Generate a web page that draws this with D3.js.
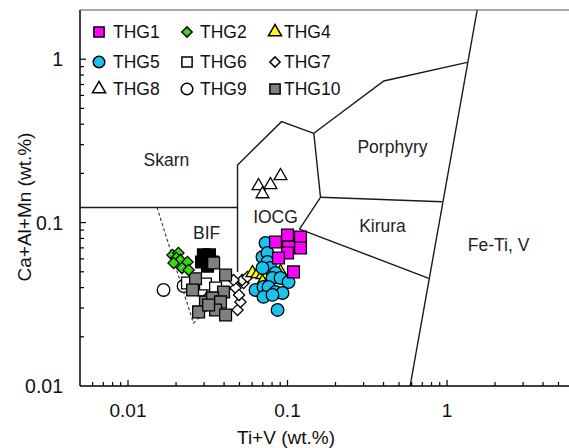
<!DOCTYPE html>
<html>
<head>
<meta charset="utf-8">
<script src="https://cdn.jsdelivr.net/npm/d3@7"></script>
<style>
  html, body { margin: 0; padding: 0; background: #fff; }
  svg { display: block; font-family: "Liberation Sans", Arial, Helvetica, sans-serif; }
</style>
</head>
<body>
<svg id="chart" width="569" height="448"></svg>
<script>
// ---- data (Ti+V, Ca+Al+Mn in wt.%) ----
const seriesNames = ["THG1", "THG2", "THG4", "THG5", "THG6", "THG7", "THG8", "THG9", "THG10"];

const thg1 = [[0.0841,0.0761],[0.100,0.0840],[0.1206,0.0816],[0.1206,0.0699],[0.1015,0.0709],
              [0.100,0.0652],[0.0878,0.0607],[0.109,0.0499]];
const thg2 = [[0.0190,0.0634],[0.0207,0.0652],[0.0201,0.0607],[0.0213,0.0590],[0.0236,0.0574],
              [0.0193,0.0566],[0.0218,0.0528],[0.0240,0.0513]];
// black squares (not listed in the legend)
const thg3 = [[0.0297,0.0634],[0.0324,0.0634],[0.0311,0.0590],[0.0339,0.0574],[0.0289,0.0574],
              [0.0315,0.0542]];
const thg4 = [[0.0603,0.0492],[0.0649,0.0485],[0.0697,0.0478],[0.0738,0.0513],[0.0904,0.0499],
              [0.0697,0.0433]];
const thg5 = [[0.0728,0.0750],[0.0697,0.0616],[0.0749,0.0652],[0.0749,0.0574],[0.0782,0.0528],
              [0.0841,0.0492],[0.0805,0.0458],[0.0904,0.0458],[0.1015,0.0433],[0.0630,0.0387],
              [0.0707,0.0404],[0.0760,0.0404],[0.0841,0.0376],[0.0930,0.0371],[0.0707,0.0351],
              [0.0805,0.0361],[0.0866,0.0292],[0.0697,0.0528]];
const thg6 = [[0.0236,0.0427],[0.0306,0.0421],[0.0354,0.0398]];
const thg7 = [[0.0486,0.0292],[0.0507,0.0327],[0.0472,0.0398],[0.0530,0.0427],[0.0520,0.0445],
              [0.0459,0.0445],[0.0561,0.0465],[0.0497,0.0361]];
const thg8 = [[0.0658,0.1675],[0.0782,0.1699],[0.0697,0.1496],[0.0904,0.1929]];
const thg9 = [[0.0167,0.0387],[0.0223,0.0409],[0.0285,0.0387]];
const thg10 = [[0.0265,0.0453],[0.0344,0.0566],[0.0409,0.0478],[0.0254,0.0387],[0.0306,0.0327],
               [0.0397,0.0376],[0.0339,0.0346],[0.0380,0.0327],[0.0277,0.0284],[0.0354,0.0292],
               [0.0409,0.0272],[0.0320,0.0313]];

// field boundaries (polylines in data units)
const skarnBase   = [[0.005,0.1238],[0.0486,0.1238]];
const iocgWest    = [[0.0486,0.0498],[0.0486,0.2252],[0.0917,0.4146],[0.1462,0.352]];
const porphyryTop = [[0.1462,0.352],[0.4016,0.7356],[1.339,0.957]];
const feTiVLine   = [[1.546,2.0],[0.587,0.01]];
const iocgEast    = [[0.1462,0.352],[0.161,0.1428],[0.1189,0.0913]];
const kirunaTop   = [[0.161,0.1428],[0.933,0.1342]];
const kirunaBase  = [[0.1189,0.0913],[0.769,0.0456]];
const bifDashed   = [[0.0152,0.1238],[0.0257,0.0243],[0.0472,0.0415]];

const fieldLabels = [
  {text: "Skarn",    x: 0.0174, y: 0.242},
  {text: "BIF",      x: 0.0311, y: 0.0864},
  {text: "IOCG",     x: 0.0841, y: 0.1082},
  {text: "Porphyry", x: 0.455,  y: 0.290},
  {text: "Kirura",   x: 0.394,  y: 0.0953},
  {text: "Fe-Ti, V", x: 2.104,  y: 0.0729}
];

const xTickLabels = [0.01, 0.1, 1];
const yTickLabels = [0.01, 0.1, 1];

// ---- layout ----
const svg = d3.select("#chart");
const plotLeft = 80, plotTop = 10, plotBottom = 386;
const x = d3.scaleLog().domain([0.005, 10]).range([plotLeft, plotLeft + 159.5 * Math.log10(2000)]);
const y = d3.scaleLog().domain([0.01, 2]).range([plotBottom, plotTop]);

svg.append("defs").append("clipPath").attr("id", "plot-clip")
  .append("rect").attr("x", plotLeft).attr("y", plotTop)
  .attr("width", 600).attr("height", plotBottom - plotTop);

const plot = svg.append("g").attr("clip-path", "url(#plot-clip)");

const line = d3.line().x(d => x(d[0])).y(d => y(d[1]));

[skarnBase, iocgWest, porphyryTop, feTiVLine, iocgEast, kirunaTop, kirunaBase].forEach(p => {
  plot.append("path").attr("d", line(p))
    .attr("fill", "none").attr("stroke", "#1a1a1a").attr("stroke-width", 1.4);
});
plot.append("path").attr("d", line(bifDashed))
  .attr("fill", "none").attr("stroke", "#333").attr("stroke-width", 1.1)
  .attr("stroke-dasharray", "3,2.5");

// field names
svg.append("g").selectAll("text").data(fieldLabels).join("text")
  .attr("x", d => x(d.x)).attr("y", d => y(d.y))
  .attr("text-anchor", "middle").attr("dominant-baseline", "central")
  .attr("font-size", 17.5).attr("fill", "#222")
  .text(d => d.text);

// ---- symbols ----
const sym = {
  square:   d3.symbol().type(d3.symbolSquare).size(140)(),
  circle:   d3.symbol().type(d3.symbolCircle).size(125)(),
  diamond:  d3.symbol().type(d3.symbolSquare).size(62)(),
  triangle: d3.symbol().type(d3.symbolTriangle).size(72)()
};
const styles = {
  THG1:  {shape: "square",   fill: "#ff00ff"},
  THG2:  {shape: "diamond",  fill: "#33dd11"},
  THG3:  {shape: "square",   fill: "#000000"},
  THG4:  {shape: "triangle", fill: "#ffff00"},
  THG5:  {shape: "circle",   fill: "#19c3ef"},
  THG6:  {shape: "square",   fill: "#ffffff"},
  THG7:  {shape: "diamond",  fill: "#ffffff"},
  THG8:  {shape: "triangle", fill: "#ffffff"},
  THG9:  {shape: "circle",   fill: "#ffffff"},
  THG10: {shape: "square",   fill: "#808080"}
};
const seriesData = {THG1: thg1, THG2: thg2, THG3: thg3, THG4: thg4, THG5: thg5, THG6: thg6,
                    THG7: thg7, THG8: thg8, THG9: thg9, THG10: thg10};

const drawOrder = ["THG9", "THG6", "THG7", "THG3", "THG10", "THG2", "THG4", "THG5", "THG1", "THG8"];
const marks = svg.append("g");
drawOrder.forEach(name => {
  const st = styles[name];
  marks.append("g").selectAll("path").data(seriesData[name]).join("path")
    .attr("d", sym[st.shape])
    .attr("transform", d => `translate(${x(d[0])},${y(d[1])})` + (st.shape === "diamond" ? " rotate(45)" : ""))
    .attr("fill", st.fill).attr("stroke", "#000").attr("stroke-width", 1.3);
});

// ---- axes ----
const axisG = svg.append("g");
axisG.append("line").attr("x1", plotLeft).attr("x2", plotLeft).attr("y1", plotTop).attr("y2", plotBottom)
  .attr("stroke", "#000").attr("stroke-width", 1.5);
axisG.append("line").attr("x1", plotLeft).attr("x2", 569).attr("y1", plotBottom).attr("y2", plotBottom)
  .attr("stroke", "#000").attr("stroke-width", 1.5);
axisG.append("line").attr("x1", plotLeft).attr("x2", 569).attr("y1", plotTop).attr("y2", plotTop)
  .attr("stroke", "#555").attr("stroke-width", 1.2);

const isMajor = v => Math.abs(Math.log10(v) - Math.round(Math.log10(v))) < 1e-6;

const xt = x.ticks().filter(v => x(v) > plotLeft + 1 && x(v) < 569);
axisG.append("g").selectAll("line").data(xt).join("line")
  .attr("x1", d => x(d)).attr("x2", d => x(d))
  .attr("y1", plotBottom).attr("y2", d => plotBottom - (isMajor(d) ? 6 : 4))
  .attr("stroke", "#000").attr("stroke-width", 1.2);

const yt = y.ticks().filter(v => y(v) < plotBottom - 1 && y(v) > plotTop + 1);
axisG.append("g").selectAll("line").data(yt).join("line")
  .attr("x1", plotLeft).attr("x2", d => plotLeft + (isMajor(d) ? 6 : 4))
  .attr("y1", d => y(d)).attr("y2", d => y(d))
  .attr("stroke", "#000").attr("stroke-width", 1.2);

const fmt = v => v >= 1 ? String(v) : String(+v.toPrecision(1));
axisG.append("g").selectAll("text").data(xTickLabels).join("text")
  .attr("x", d => x(d)).attr("y", 410)
  .attr("text-anchor", "middle").attr("dominant-baseline", "central")
  .attr("font-size", 19).attr("fill", "#111").text(fmt);
axisG.append("g").selectAll("text").data(yTickLabels).join("text")
  .attr("x", 63).attr("y", d => y(d))
  .attr("text-anchor", "end").attr("dominant-baseline", "central")
  .attr("font-size", 19.5).attr("fill", "#111").text(fmt);

svg.append("text").attr("x", 286).attr("y", 437)
  .attr("text-anchor", "middle").attr("dominant-baseline", "central")
  .attr("font-size", 19).attr("fill", "#111").text("Ti+V (wt.%)");
svg.append("text").attr("transform", "translate(24,207) rotate(-90)")
  .attr("text-anchor", "middle").attr("dominant-baseline", "central")
  .attr("font-size", 19).attr("fill", "#111").text("Ca+Al+Mn (wt.%)");

// ---- legend ----
const legendSym = {
  square:   d3.symbol().type(d3.symbolSquare).size(105)(),
  circle:   d3.symbol().type(d3.symbolCircle).size(105)(),
  diamond:  d3.symbol().type(d3.symbolSquare).size(52)(),
  triangle: d3.symbol().type(d3.symbolTriangle).size(75)()
};
const colSym = [99, 187, 275], colText = [113, 200, 284], rowY = [32, 62, 89];
const legend = svg.append("g").selectAll("g").data(seriesNames).join("g")
  .attr("transform", (d, i) => `translate(0,${rowY[Math.floor(i / 3)]})`);
legend.append("path")
  .attr("d", d => legendSym[styles[d].shape])
  .attr("transform", (d, i) => `translate(${colSym[i % 3]},0)` + (styles[d].shape === "diamond" ? " rotate(45)" : ""))
  .attr("fill", d => styles[d].fill).attr("stroke", "#000").attr("stroke-width", 1.5);
legend.append("text")
  .attr("x", (d, i) => colText[i % 3]).attr("y", 0)
  .attr("dominant-baseline", "central")
  .attr("font-size", 17.5).attr("fill", "#111").text(d => d);
</script>
</body>
</html>
